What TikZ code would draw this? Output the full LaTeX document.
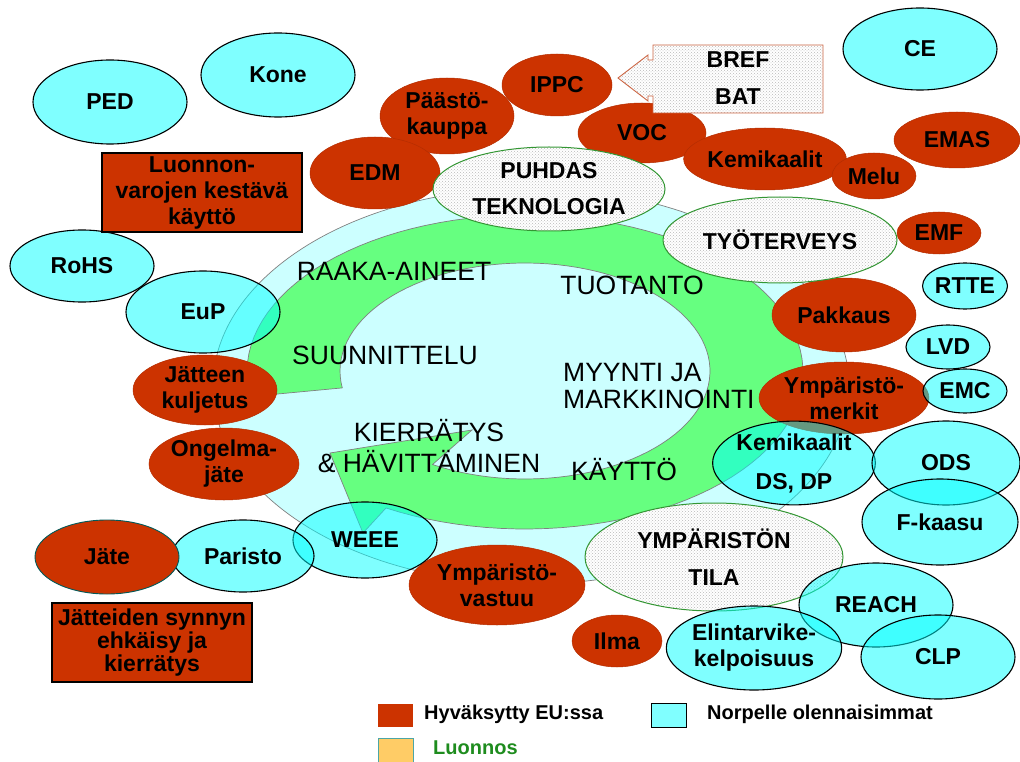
\documentclass[tikz,border=0pt]{standalone}
\usepackage{fontspec}
\setmainfont{Liberation Sans}
\usetikzlibrary{shapes.geometric,patterns}

\definecolor{redf}{RGB}{204,51,0}
\definecolor{cyf}{RGB}{0,255,255}
\definecolor{lcy}{RGB}{204,255,255}
\definecolor{grn}{RGB}{102,255,128}
\definecolor{stb}{RGB}{51,150,51}
\definecolor{cob}{RGB}{204,102,68}
\definecolor{orf}{RGB}{255,204,102}
\definecolor{lgreen}{RGB}{30,140,30}

\tikzset{
  lbl/.style={font=\fontsize{23}{26}\selectfont\bfseries, align=center, text=black},
  sz/.style 2 args={minimum width=#1pt, minimum height=#2pt},
  cyb/.style={ellipse, draw=black, line width=1.1pt, fill=cyf, fill opacity=0.5,
    text opacity=1, inner sep=0pt, lbl},
  rdb/.style={ellipse, draw=redf!88!black, line width=0.5pt, fill=redf, inner sep=0pt, lbl},
  stip/.style={ellipse, draw=stb, line width=1pt, preaction={fill=white},
    pattern=crosshatch dots, pattern color=gray!55, inner sep=0pt, lbl},
  rbox/.style={rectangle, draw=black, line width=1.2pt, fill=redf, inner sep=0pt, lbl},
  core/.style={font=\fontsize{26.5}{27}\selectfont, text=black, inner sep=0pt},
  lgd/.style={font=\fontsize{20}{24}\selectfont\bfseries, anchor=west, inner sep=0pt},
  swatch/.style={rectangle, inner sep=0pt, minimum width=35pt, minimum height=23pt},
}

\begin{document}
\begin{tikzpicture}[x=1pt, y=-1pt]
\useasboundingbox (0,0) rectangle (1020,762);

% life-cycle field
\path[fill=lcy, draw=gray, line width=0.7pt] (531,386) ellipse [x radius=318pt, y radius=198pt];

% circular green arrow
\path[fill=grn, draw=gray, line width=0.7pt]
  plot[domain=189:-120, samples=100, variable=\t] ({525+278*cos(\t)},{372-157*sin(\t)})
  -- (363,533) -- (330,453) -- (472,430)
  -- plot[domain=-120:189, samples=100, variable=\t] ({525+185*cos(\t)},{371-108*sin(\t)})
  -- cycle;

% adopted directives (red)
\node[rdb, sz={110}{62}] (ippc) at (557,85) {IPPC};
\node[rdb, sz={134}{76}] (paasto) at (447,116) {Päästö-\\kauppa};
\node[rdb, sz={130}{72}] (edm) at (375,173) {EDM};
\node[rdb, sz={128}{60}] (voc) at (642,133) {VOC};
\node[rdb, sz={156}{62}] (kem) at (765,159) {Kemikaalit};
\node[rdb, sz={84}{46}] (melu) at (874,176) {Melu};
\node[rdb, sz={126}{56}] (emas) at (957,140) {EMAS};
\node[rdb, sz={84}{42}] (emf) at (939,233) {EMF};
\node[rdb, sz={144}{74}] (pakkaus) at (844,315) {Pakkaus};
\node[rdb, sz={152}{72}] (ymerk) at (844,398) {Ympäristö-\\merkit};
\node[rdb, sz={144}{70}] (jkulj) at (205,390) {Jätteen\\kuljetus};
\node[rdb, sz={144}{72}] (ongel) at (224,464) {Ongelma-\\jäte};
\node[rdb, sz={176}{80}] (yvast) at (497,585) {Ympäristö-\\vastuu};
\node[rdb, sz={90}{52}] (ilma) at (617,641) {Ilma};

% themes (stippled)
\node[stip, sz={232}{84}] (puhdas) at (549,189) {PUHDAS\\[10pt]TEKNOLOGIA};
\node[stip, sz={234}{86}] (tyo) at (780,240) {TYÖTERVEYS};
\node[stip, sz={258}{108}] (ytila) at (714,557) {YMPÄRISTÖN\\[11pt]TILA};

% BREF / BAT callout pointing to IPPC
\path[draw=cob, line width=0.9pt, preaction={fill=white},
      pattern=crosshatch dots, pattern color=gray!55]
  (653,45) -- (823,45) -- (823,113) -- (653,113) -- (653,96) -- (648,96)
  -- (648,101) -- (618,78) -- (648,55) -- (648,60) -- (653,60) -- cycle;
\node[lbl] (bref) at (738,78) {BREF\\[11pt]BAT};

% most relevant directives (cyan)
\node[cyb, sz={154}{84}] (ped) at (110,102) {PED};
\node[cyb, sz={154}{84}] (kone) at (278,75) {Kone};
\node[cyb, sz={154}{82}] (ce) at (920,49) {CE};
\node[cyb, sz={144}{72}] (rohs) at (82,266) {RoHS};
\node[cyb, sz={154}{82}] (eup) at (203,312) {EuP};
\node[cyb, sz={144}{76}] (weee) at (365,540) {WEEE};
\node[cyb, sz={142}{72}] (paristo) at (243,556) {Paristo};
\node[cyb, sz={162}{82}] (kemds) at (794,463) {Kemikaalit\\[13pt]DS, DP};
\node[cyb, sz={148}{84}] (ods) at (946,463) {ODS};
\node[cyb, sz={156}{86}] (fkaasu) at (940,522) {F-kaasu};
\node[cyb, sz={154}{84}] (reach) at (876,605) {REACH};
\node[cyb, sz={154}{84}] (clp) at (938,657) {CLP};
\node[cyb, sz={156}{84}] (elin) at (754,648) {Elintarvike-\\kelpoisuus};
\node[cyb, sz={84}{46}] (rtte) at (965,286) {RTTE};
\node[cyb, sz={84}{44}] (lvd) at (948,347) {LVD};
\node[cyb, sz={84}{44}] (emc) at (965,391) {EMC};

\node[rdb, draw=teal!70!black, line width=0.9pt, sz={144}{74}] (jate) at (107,557) {Jäte};

% policy boxes
\node[rbox, sz={200}{79}] (luonto) at (202,192.5) {Luonnon-\\varojen kestävä\\käyttö};
\node[rbox, sz={200}{79}, font=\fontsize{23}{23}\selectfont\bfseries] (jsynty) at (152,642.5)
  {Jätteiden synnyn\\ehkäisy ja\\kierrätys};

% life-cycle stages
\node[core] (raaka) at (394,271) {RAAKA-AINEET};
\node[core] (tuot) at (632,285) {TUOTANTO};
\node[core] (suun) at (385,355) {SUUNNITTELU};
\node[core, align=left, anchor=west] (myynti) at (563,386) {MYYNTI JA\\MARKKINOINTI};
\node[core] (kaytto) at (624,470) {KÄYTTÖ};
\node[core, align=center] (kierr) at (429,446) {KIERRÄTYS\\[4pt]\& HÄVITTÄMINEN};

% legend
\node[swatch, fill=redf] (lg1) at (395.5,715.5) {};
\node[lgd] (lt1) at (424,714) {Hyväksytty EU:ssa};
\node[swatch, fill=cyf!50, draw=black, line width=1pt, minimum height=24pt] (lg2) at (668.5,715) {};
\node[lgd] (lt2) at (707,714) {Norpelle olennaisimmat};
\node[swatch, fill=orf, draw=teal!70, line width=1pt, minimum height=24pt] (lg3) at (395.5,750) {};
\node[lgd, text=lgreen] (lt3) at (433,748) {Luonnos};
\end{tikzpicture}
\end{document}
